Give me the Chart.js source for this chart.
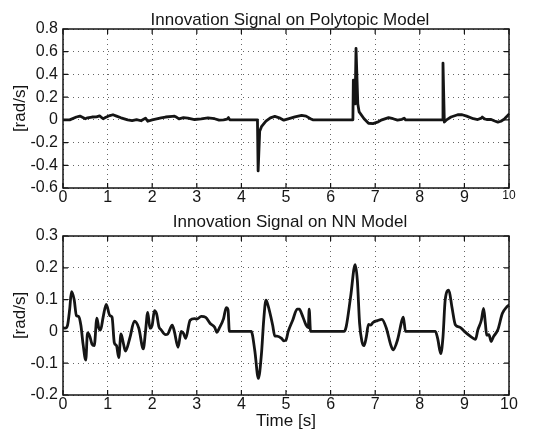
<!DOCTYPE html>
<html>
<head>
<meta charset="utf-8">
<script src="https://cdn.jsdelivr.net/npm/chart.js@4.4.1/dist/chart.umd.min.js"></script>
<style>
  html, body { margin: 0; padding: 0; background: #fff; }
  body { width: 536px; height: 435px; position: relative; overflow: hidden; }
  .panel { position: absolute; left: 0; width: 536px; }
  #topPanel { top: 0; height: 215px; }
  #nnPanel { top: 210px; height: 225px; }
</style>
</head>
<body>
<div class="panel" id="topPanel"><canvas id="topChart" width="536" height="215"></canvas></div>
<div class="panel" id="nnPanel"><canvas id="nnChart" width="536" height="225"></canvas></div>
<script>
// Innovation signal on the polytopic model (time in s, value in rad/s)
const topTime = [0, 0.15, 0.3, 0.38, 0.5, 0.55, 0.65, 0.75, 0.82, 0.9, 0.95, 1.05, 1.12, 1.2, 1.3,
  1.45, 1.55, 1.65, 1.75, 1.85, 1.9, 2.0, 2.1, 2.2, 2.3, 2.45, 2.5, 2.55, 2.6, 2.7, 2.8, 2.95,
  3.1, 3.25, 3.4, 3.5, 3.6, 3.68, 3.71, 3.74, 4.36, 4.375, 4.39, 4.41, 4.45, 4.55, 4.65, 4.75,
  4.85, 4.95, 5.05, 5.2, 5.35, 5.45, 5.55, 5.6, 6.5, 6.51, 6.53, 6.55, 6.57, 6.59, 6.61, 6.64,
  6.75, 6.85, 6.95, 7.05, 7.15, 7.3, 7.4, 7.5, 7.6, 7.65, 7.68, 8.5, 8.52, 8.55, 8.6, 8.7,
  8.85, 8.95, 9.05, 9.2, 9.3, 9.38, 9.4, 9.45, 9.5, 9.6, 9.68, 9.75, 9.82, 9.9, 10];
const topValue = [0, 0, 0.025, 0.033, 0.01, 0.018, 0.025, 0.027, 0.035, 0.01, 0.02, 0.038, 0.045, 0.033, 0.018,
  0.0, -0.006, 0.002, -0.008, 0.015, -0.012, 0.0, 0.009, 0.018, 0.025, 0.03, 0.032, 0.022, 0.009, 0.02, 0.015, 0.003,
  0.009, 0.018, 0.01, -0.003, 0.0, 0.006, 0.02, 0.0, 0.0, -0.45, -0.45, -0.1, -0.06, -0.012, 0.018, 0.03,
  0.018, -0.003, 0.009, 0.027, 0.04, 0.033, 0.01, 0.0, 0.0, 0.35, 0.35, 0.14, 0.63, 0.63, 0.14, 0.07,
  0.01, -0.03, -0.033, -0.02, 0.0, 0.02, 0.01, -0.003, 0.005, 0.015, 0.0, 0.0, 0.5, -0.02, 0.0, 0.025,
  0.045, 0.045, 0.033, 0.01, 0.003, 0.015, 0.025, 0.009, 0.003, 0.003, -0.01, -0.02, -0.012, 0.009, 0.05];

// Innovation signal on the NN model
const nnTime = [0, 0.05, 0.1, 0.15, 0.19, 0.25, 0.3, 0.35, 0.4, 0.45, 0.51, 0.55, 0.6, 0.65, 0.7, 0.76,
  0.8, 0.84, 0.9, 0.97, 1.05, 1.1, 1.15, 1.2, 1.25, 1.3, 1.35, 1.4, 1.5, 1.6, 1.7, 1.8, 1.85, 1.9,
  1.95, 2.0, 2.05, 2.1, 2.15, 2.2, 2.3, 2.35, 2.45, 2.5, 2.58, 2.65, 2.7, 2.75, 2.85, 2.95, 3.0,
  3.1, 3.2, 3.3, 3.4, 3.45, 3.5, 3.6, 3.66, 3.7, 3.73, 4.22, 4.3, 4.38, 4.45, 4.5, 4.55, 4.6, 4.7,
  4.75, 4.8, 4.9, 4.95, 5.0, 5.05, 5.15, 5.25, 5.3, 5.35, 5.45, 5.5, 5.52, 5.55, 6.3, 6.35, 6.45,
  6.55, 6.6, 6.65, 6.7, 6.75, 6.8, 6.85, 6.9, 6.95, 7.05, 7.15, 7.25, 7.35, 7.4, 7.5, 7.6, 7.63,
  7.68, 8.35, 8.4, 8.47, 8.52, 8.57, 8.65, 8.72, 8.8, 8.9, 9.0, 9.1, 9.2, 9.25, 9.3, 9.38, 9.43,
  9.47, 9.5, 9.55, 9.6, 9.65, 9.75, 9.85, 9.95, 10];
const nnValue = [0.01, 0.01, 0.018, 0.07, 0.125, 0.1, 0.05, 0.047, 0.02, -0.04, -0.09, -0.005, -0.015, -0.04, -0.045, 0.042,
  0.012, 0.004, 0.045, 0.085, 0.05, 0.045, -0.035, -0.045, -0.082, -0.008, -0.035, -0.062, -0.02, 0.032, 0.01, -0.055, 0.0, 0.06,
  0.01, 0.02, 0.065, 0.054, 0.015, 0.005, -0.01, -0.008, 0.02, -0.002, -0.05, 0.0, -0.006, -0.022, 0.035, 0.04, 0.039,
  0.047, 0.044, 0.025, 0.013, -0.003, 0.009, 0.04, 0.075, 0.068, 0.0, 0.0, -0.06, -0.148, -0.07, 0.035, 0.098, 0.08, 0.02,
  -0.015, -0.015, -0.022, -0.03, -0.027, 0.0, 0.035, 0.07, 0.07, 0.056, 0.02, 0.012, 0.07, 0.0, 0.0, 0.015, 0.11,
  0.21, 0.16, 0.025, -0.03, -0.045, -0.018, 0.022, 0.02, 0.028, 0.034, 0.038, 0.01, -0.043, -0.058, -0.027, 0.035, 0.045,
  0.0, 0.0, -0.022, -0.07, -0.017, 0.1, 0.13, 0.077, 0.02, 0.013, 0.0, -0.012, -0.022, -0.025, 0.004, 0.035, 0.072,
  0.025, -0.012, -0.01, -0.032, -0.017, 0.005, 0.056, 0.077, 0.083];

// Axis ticks
const timeTicks = [0, 1, 2, 3, 4, 5, 6, 7, 8, 9, 10];
const topYTicks = [-0.6, -0.4, -0.2, 0, 0.2, 0.4, 0.6, 0.8];
const nnYTicks = [-0.2, -0.1, 0, 0.1, 0.2, 0.3];

const FONT = "'Liberation Sans', Arial, Helvetica, sans-serif";
const INK = '#151515';

const fmt = v => String(Number(v.toFixed(2)));

// Plot title, axis box and inward tick marks
const framePlugin = {
  id: 'frame',
  afterDraw(chart, args, opts) {
    const { ctx, chartArea: a, scales } = chart;
    ctx.save();
    ctx.strokeStyle = INK;
    ctx.lineWidth = 1.5;
    ctx.strokeRect(a.left, a.top, a.right - a.left, a.bottom - a.top);
    ctx.lineWidth = 1.2;
    ctx.beginPath();
    const tl = 5;
    scales.x.ticks.forEach(t => {
      const px = scales.x.getPixelForValue(t.value);
      ctx.moveTo(px, a.bottom); ctx.lineTo(px, a.bottom - tl);
      ctx.moveTo(px, a.top); ctx.lineTo(px, a.top + tl);
    });
    scales.y.ticks.forEach(t => {
      const py = scales.y.getPixelForValue(t.value);
      ctx.moveTo(a.left, py); ctx.lineTo(a.left + tl, py);
      ctx.moveTo(a.right, py); ctx.lineTo(a.right - tl, py);
    });
    ctx.stroke();
    ctx.fillStyle = INK;
    ctx.font = '17px ' + FONT;
    ctx.textAlign = 'center';
    ctx.textBaseline = 'alphabetic';
    ctx.fillText(opts.text, (a.left + a.right) / 2 + 4, opts.baseline);
    ctx.restore();
  }
};

function makeChart(canvasId, cfg) {
  const data = cfg.t.map((t, i) => ({ x: t, y: cfg.v[i] }));
  return new Chart(document.getElementById(canvasId), {
    type: 'line',
    data: {
      datasets: [{
        data,
        borderColor: INK,
        borderWidth: 2.8,
        borderJoinStyle: 'round',
        borderCapStyle: 'round',
        pointRadius: 0,
        fill: false,
        tension: cfg.smooth ? 0.3 : 0,
        cubicInterpolationMode: cfg.smooth ? 'monotone' : 'default'
      }]
    },
    options: {
      responsive: false,
      animation: false,
      devicePixelRatio: 1,
      layout: { padding: { left: 0, right: 27, top: cfg.padTop, bottom: 0 } },
      plugins: {
        legend: { display: false },
        tooltip: { enabled: false },
        frame: { text: cfg.title, baseline: cfg.titleBaseline }
      },
      scales: {
        x: {
          type: 'linear',
          min: 0, max: 10,
          afterBuildTicks: s => { s.ticks = timeTicks.map(v => ({ value: v })); },
          afterFit: s => { s.height = cfg.xHeight; },
          grid: { color: 'rgba(0,0,0,0.6)', lineWidth: 1, drawTicks: false },
          border: { display: false, dash: [1, 4] },
          ticks: {
            color: INK,
            padding: 0,
            maxRotation: 0,
            autoSkip: false,
            font: ctx => ({ family: FONT, size: (cfg.smallLastX && ctx.tick && ctx.tick.value === 10) ? 12 : 16 }),
            callback: v => fmt(v)
          },
          title: {
            display: !!cfg.xTitle,
            text: cfg.xTitle || '',
            color: INK,
            font: { family: FONT, size: 17 },
            padding: { top: 0, bottom: 3 }
          }
        },
        y: {
          type: 'linear',
          min: cfg.yTicks[0], max: cfg.yTicks[cfg.yTicks.length - 1],
          afterBuildTicks: s => { s.ticks = cfg.yTicks.map(v => ({ value: v })); },
          afterFit: s => { s.width = 63; },
          grid: { color: 'rgba(0,0,0,0.6)', lineWidth: 1, drawTicks: false },
          border: { display: false, dash: [1, 4] },
          ticks: {
            color: INK,
            padding: 5,
            font: { family: FONT, size: 16 },
            callback: v => fmt(v)
          },
          title: {
            display: true,
            text: '[rad/s]',
            color: INK,
            font: { family: FONT, size: 17 },
            padding: { top: 10, bottom: 0 }
          }
        }
      }
    },
    plugins: [framePlugin]
  });
}

makeChart('topChart', {
  t: topTime, v: topValue, yTicks: topYTicks,
  title: 'Innovation Signal on Polytopic Model', titleBaseline: 25,
  padTop: 29, xHeight: 27, smallLastX: true, smooth: false
});

makeChart('nnChart', {
  t: nnTime, v: nnValue, yTicks: nnYTicks,
  title: 'Innovation Signal on NN Model', titleBaseline: 17,
  padTop: 26, xHeight: 40, xTitle: 'Time [s]', smallLastX: false, smooth: true
});
</script>
</body>
</html>
